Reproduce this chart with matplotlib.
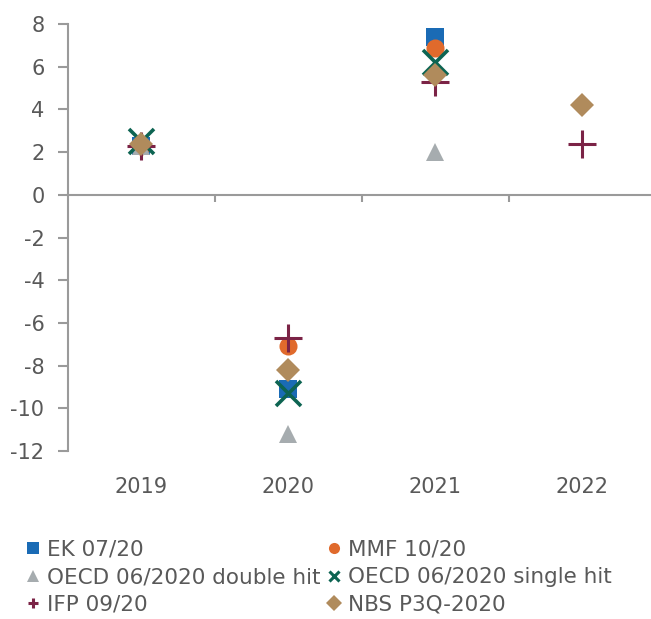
import numpy as np
import matplotlib.pyplot as plt

years = ["2019", "2020", "2021", "2022"]
ek = [2.3, -9.1, 7.4, np.nan]
mmf = [2.3, -7.1, 6.9, np.nan]
oecd_double = [2.3, -11.2, 2.0, np.nan]
oecd_single = [2.5, -9.3, 6.2, np.nan]
ifp = [2.3, -6.7, 5.3, 2.4]
nbs = [2.4, -8.2, 5.6, 4.2]

labels = ["EK 07/20", "MMF 10/20", "OECD 06/2020 double hit",
          "OECD 06/2020 single hit", "IFP 09/20", "NBS P3Q-2020"]

# series styles: (values, marker, color, size, edge width)
series = [
    (ek, "s", "#1a6bb5", 13, 0),
    (mmf, "o", "#e06a2c", 13, 0),
    (oecd_double, "^", "#a6acaf", 13, 0),
    (oecd_single, "x", "#0d6452", 18, 2.6),
    (ifp, "+", "#7b2346", 20, 2.2),
    (nbs, "D", "#b08b5c", 12, 0),
]

plt.rcParams['font.family'] = ['DejaVu Sans']
plt.rcParams['axes.unicode_minus'] = False
fig = plt.figure(figsize=(6.51, 6.19), dpi=100)
ax = fig.add_axes([0.1045, 0.2714, 0.9025, 0.6898])

x = np.arange(1, len(years) + 1)
for (vals, m, c, s, lw), lab in zip(series, labels):
    if m in ("x", "+"):
        ax.plot(x, vals, ls="none", marker=m, ms=s, mew=lw, color=c, label=lab)
    else:
        ax.plot(x, vals, ls="none", marker=m, ms=s, mfc=c, mec=c, mew=0,
                label=lab)

ax.set_xlim(0.5, 4.5)
ax.set_ylim(-12, 8)
ax.set_yticks(np.arange(-12, 9, 2))

axis_col = "#9a9a9a"
text_col = "#595959"
for sp in ["top", "right"]:
    ax.spines[sp].set_visible(False)
ax.spines["left"].set_color(axis_col)
ax.spines["left"].set_linewidth(1.5)
ax.spines["bottom"].set_position(("data", 0))
ax.spines["bottom"].set_color(axis_col)
ax.spines["bottom"].set_linewidth(1.5)

ax.set_xticks(x[:-1] + 0.5)
ax.set_xticklabels([])
ax.tick_params(axis="x", direction="out", length=5, width=1.5, color=axis_col)
ax.tick_params(axis="y", direction="out", length=7, width=1.5, color=axis_col,
               labelsize=15, labelcolor=text_col, pad=10)

sec = ax.secondary_xaxis(0)
sec.set_xticks(x)
sec.set_xticklabels(years)
sec.tick_params(length=0, labelsize=15, labelcolor=text_col, pad=19)
sec.spines["bottom"].set_visible(False)

# legend laid out row by row like the original
order = [0, 2, 4, 1, 3, 5]
leg_handles = []
for i in order:
    vals, m, c, s, lw = series[i]
    if m in ("x", "+"):
        lh, = ax.plot([], [], ls="none", marker=m, ms=7, mew=2.2, color=c)
    else:
        lh, = ax.plot([], [], ls="none", marker=m, ms=8, mfc=c, mec=c, mew=0)
    leg_handles.append(lh)
fig.legend(leg_handles, [labels[i] for i in order], ncol=2,
           loc="upper left", bbox_to_anchor=(0.041, 0.128), frameon=False,
           fontsize=15.5, labelcolor=text_col, handlelength=0.6,
           handletextpad=0.35, columnspacing=0.3, labelspacing=0.35,
           borderpad=0, borderaxespad=0)

fig.savefig("out.png", dpi=100)
